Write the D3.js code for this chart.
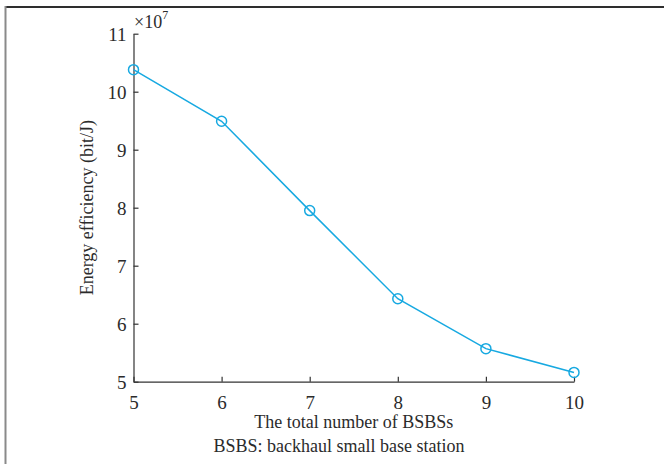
<!DOCTYPE html>
<html>
<head>
<meta charset="utf-8">
<script src="https://cdn.jsdelivr.net/npm/d3@7/dist/d3.min.js"></script>
<style>
  html, body { margin: 0; padding: 0; background: #fff; }
  svg { display: block; }
  text { font-family: "Liberation Serif", "DejaVu Serif", serif; fill: #2b2b2b; }
</style>
</head>
<body>
<svg id="chart" width="664" height="464"></svg>
<script>
// Energy efficiency versus the total number of BSBSs
const bsbsCount = [5, 6, 7, 8, 9, 10];
const efficiency = [10.38, 9.49, 7.95, 6.43, 5.57, 5.16]; // in units of 1e7 bit/J
const xTicks = [5, 6, 7, 8, 9, 10];
const yTicks = [5, 6, 7, 8, 9, 10, 11];
const xLabel = "The total number of BSBSs";
const yLabel = "Energy efficiency (bit/J)";
const caption = "BSBS: backhaul small base station";

const svg = d3.select("#chart");
const lineColor = "#17a9e1";
const axisColor = "#333";

// page frame (top and left rules)
svg.append("line").attr("x1", 5).attr("x2", 664).attr("y1", 7).attr("y2", 7)
  .attr("stroke", "#2e2e2e").attr("stroke-width", 2);
svg.append("line").attr("x1", 5.5).attr("x2", 5.5).attr("y1", 6).attr("y2", 464)
  .attr("stroke", "#8a8a8a").attr("stroke-width", 2);

const x = d3.scaleLinear().domain([5, 10]).range([133.5, 574]);
const y = d3.scaleLinear().domain([5, 11]).range([381.7, 33.7]);
const fmt = d3.format("d");

// x axis with inward ticks
const gx = svg.append("g").attr("transform", `translate(0,${y(5)})`)
  .call(d3.axisBottom(x).tickValues(xTicks).tickFormat(fmt)
    .tickSizeInner(-5).tickSizeOuter(0).tickPadding(11));
// y axis with inward ticks
const gy = svg.append("g").attr("transform", `translate(${x(5)},0)`)
  .call(d3.axisLeft(y).tickValues(yTicks).tickFormat(fmt)
    .tickSizeInner(-5).tickSizeOuter(0).tickPadding(7));

[gx, gy].forEach(g => {
  g.select(".domain").attr("stroke", axisColor).attr("stroke-width", 1.2);
  g.selectAll(".tick line").attr("stroke", axisColor).attr("stroke-width", 1.2);
  g.selectAll(".tick text").attr("font-size", 19).attr("fill", "#2b2b2b")
    .attr("font-family", "Liberation Serif, serif");
});
gx.selectAll(".tick text").attr("dy", "0.85em");
gy.selectAll(".tick text").attr("dy", "0.34em");

// exponent marker above the y axis
const expo = svg.append("text").attr("x", 134).attr("y", 28).attr("font-size", 18);
expo.append("tspan").text("\u00d710");
expo.append("tspan").attr("dy", -9).attr("font-size", 12).text("7");

// data line and open circle markers
const line = d3.line().x((d, i) => x(bsbsCount[i])).y(d => y(d));
svg.append("path").datum(efficiency)
  .attr("d", line).attr("fill", "none")
  .attr("stroke", lineColor).attr("stroke-width", 1.5);
svg.selectAll("circle.pt").data(efficiency).join("circle")
  .attr("class", "pt")
  .attr("cx", (d, i) => x(bsbsCount[i])).attr("cy", d => y(d))
  .attr("r", 5).attr("fill", "none")
  .attr("stroke", lineColor).attr("stroke-width", 1.5);

// axis titles and caption
svg.append("text").attr("x", (x(5) + x(10)) / 2).attr("y", 428)
  .attr("text-anchor", "middle").attr("font-size", 18).text(xLabel);
svg.append("text")
  .attr("transform", `translate(93,${(y(5) + y(11)) / 2}) rotate(-90)`)
  .attr("text-anchor", "middle").attr("font-size", 18).text(yLabel);
svg.append("text").attr("x", 339).attr("y", 452)
  .attr("text-anchor", "middle").attr("font-size", 18).text(caption);
</script>
</body>
</html>
